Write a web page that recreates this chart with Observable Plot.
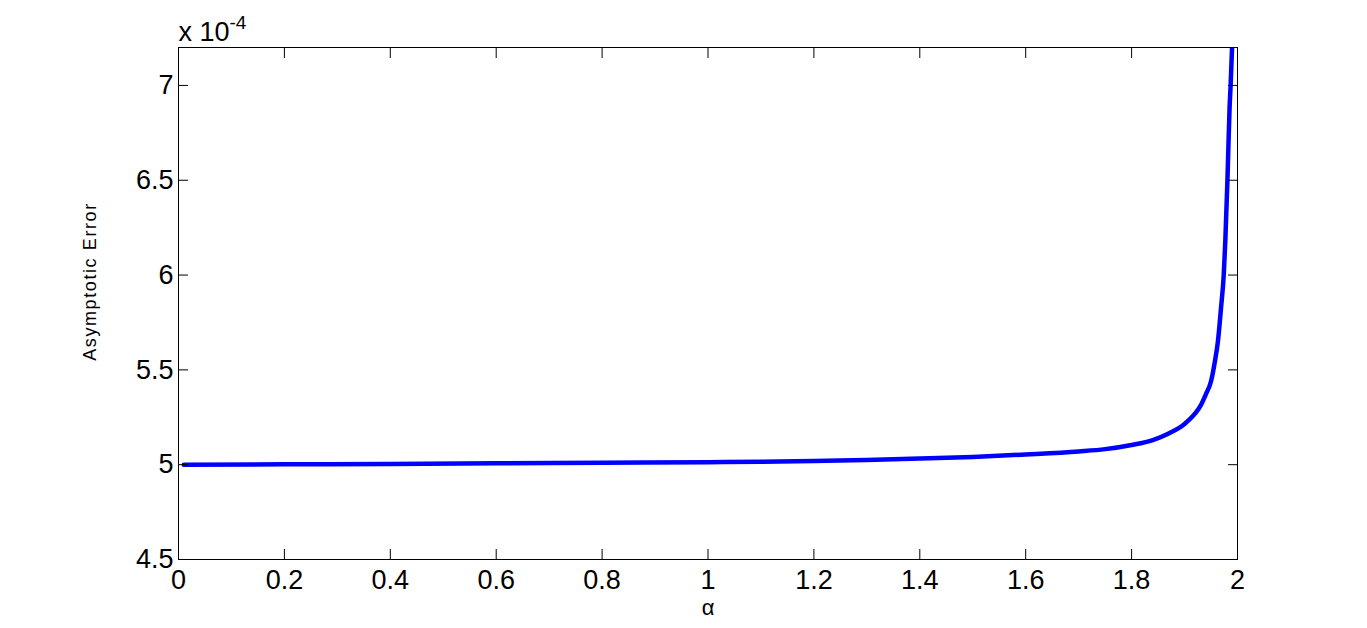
<!DOCTYPE html>
<html><head><meta charset="utf-8">
<script src="https://cdn.jsdelivr.net/npm/d3@7"></script>
<script src="https://cdn.jsdelivr.net/npm/@observablehq/plot@0.6"></script>
<style>html,body{margin:0;padding:0;background:#fff}</style>
</head><body><div id="chart"></div>
<script>
const alphaValues = [0.01, 0.2, 0.4, 0.6, 0.8, 1.0, 1.1, 1.2, 1.3, 1.4, 1.5, 1.6, 1.7, 1.75, 1.8, 1.84, 1.87, 1.9, 1.92, 1.93, 1.94, 1.95, 1.957, 1.963, 1.969, 1.974, 1.977, 1.981, 1.985, 1.987, 1.990];
const errorValues = [5.000, 5.002, 5.004, 5.007, 5.010, 5.013, 5.015, 5.019, 5.025, 5.032, 5.041, 5.054, 5.070, 5.082, 5.104, 5.130, 5.165, 5.215, 5.270, 5.310, 5.370, 5.440, 5.540, 5.650, 5.830, 6.000, 6.180, 6.500, 6.880, 7.000, 7.220]; // × 10^-4
const xTicks = [0, 0.2, 0.4, 0.6, 0.8, 1, 1.2, 1.4, 1.6, 1.8, 2];
const yTicks = [4.5, 5, 5.5, 6, 6.5, 7];
const xLabel = "α";
const yLabel = "Asymptotic Error";
const exponentBase = "x 10";
const exponentPower = "-4";

const data = alphaValues.map((a, i) => ({alpha: a, err: errorValues[i]}));
const font = "Arial, 'Liberation Sans', Helvetica, sans-serif";
const fmt = d3.format("~g");

const chart = Plot.plot({
  width: 1367, height: 628,
  marginLeft: 178, marginRight: 130, marginTop: 47, marginBottom: 69,
  style: {fontFamily: font, background: "#fff", color: "#000", overflow: "visible"},
  x: {domain: [0, 2]},
  y: {domain: [4.5, 7.2]},
  marks: [
    Plot.line(data, {x: "alpha", y: "err", stroke: "#0000ff", strokeWidth: 4.5, clip: true, curve: "monotone-x"}),
    Plot.frame({stroke: "#000", strokeWidth: 1}),
    Plot.axisX(xTicks, {anchor: "bottom", tickSize: -10, fill: "none", label: null}),
    Plot.axisX(xTicks, {anchor: "top", tickSize: -10, fill: "none", label: null}),
    Plot.axisY(yTicks, {anchor: "left", tickSize: -10, fill: "none", label: null}),
    Plot.axisY(yTicks, {anchor: "right", tickSize: -10, fill: "none", label: null}),
    Plot.axisX(xTicks, {anchor: "bottom", tickSize: 0, tickPadding: 10, fontSize: 27, tickFormat: fmt, label: null}),
    Plot.axisY(yTicks, {anchor: "left", tickSize: 0, tickPadding: 5, fontSize: 27, tickFormat: fmt, label: null}),
    Plot.text([xLabel], {frameAnchor: "bottom", textAnchor: "middle", lineAnchor: "middle", dy: 48, fontSize: 22}),
    Plot.text([yLabel], {frameAnchor: "left", textAnchor: "middle", lineAnchor: "middle", rotate: -90, dx: -88, dy: -22, fontSize: 18}),
    Plot.text([exponentBase], {frameAnchor: "top-left", textAnchor: "start", lineAnchor: "bottom", dy: -7, fontSize: 27}),
    Plot.text([exponentPower], {frameAnchor: "top-left", textAnchor: "start", lineAnchor: "bottom", dx: 51, dy: -19, fontSize: 19})
  ]
});
d3.select(chart).selectAll("text").filter(function() { return this.textContent === yLabel; }).attr("letter-spacing", "1.6px");
document.getElementById("chart").append(chart);
</script>
</body></html>
